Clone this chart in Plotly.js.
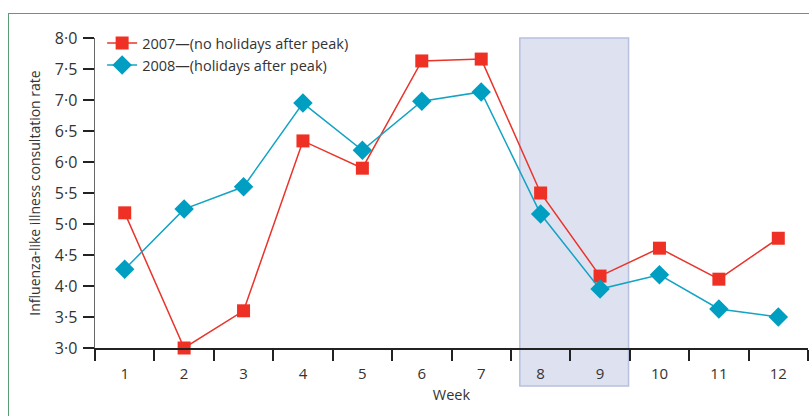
<!DOCTYPE html>
<html>
<head>
<meta charset="utf-8">
<script src="https://cdn.plot.ly/plotly-3.0.1.min.js"></script>
<style>
  html, body { margin: 0; padding: 0; background: #fff; }
  #wrap { position: relative; width: 809px; height: 416px; }
  #chart { width: 809px; height: 416px; }
  #frame { position: absolute; left: 8px; top: 13px; right: -5px; bottom: -5px;
           border-top: 1.5px solid #5a9e78; border-left: 1.5px solid #5a9e78; pointer-events: none; }
</style>
</head>
<body>
<div id="wrap">
  <div id="chart"></div>
  <div id="frame"></div>
</div>
<script>
const weeks = ['1','2','3','4','5','6','7','8','9','10','11','12'];
const rate2007 = [5.18, 3.00, 3.60, 6.34, 5.90, 7.63, 7.66, 5.50, 4.16, 4.61, 4.11, 4.77];
const rate2008 = [4.27, 5.24, 5.60, 6.95, 6.19, 6.98, 7.13, 5.16, 3.95, 4.18, 3.63, 3.50];
const yTickVals = [3.0, 3.5, 4.0, 4.5, 5.0, 5.5, 6.0, 6.5, 7.0, 7.5, 8.0];
const yTickText = ['3·0','3·5','4·0','4·5','5·0','5·5','6·0','6·5','7·0','7·5','8·0'];
const name2007 = '2007—(no holidays after peak)';
const name2008 = '2008—(holidays after peak)';
const holidayStart = 6.65, holidayEnd = 8.48; // category index coordinates

const font = '"Open Sans", sans-serif';

const traces = [
  { x: weeks, y: rate2007, name: name2007, type: 'scatter', mode: 'lines+markers',
    line: { color: '#e8342b', width: 1.5 },
    marker: { symbol: 'square', size: 13, color: '#ee3124' }, cliponaxis: false },
  { x: weeks, y: rate2008, name: name2008, type: 'scatter', mode: 'lines+markers',
    line: { color: '#13a3c4', width: 1.5 },
    marker: { symbol: 'diamond', size: 15, color: '#009fc2' }, cliponaxis: false }
];

const layout = {
  width: 809, height: 416,
  margin: { l: 95, r: 1, t: 38, b: 68 },
  paper_bgcolor: '#fff', plot_bgcolor: 'rgba(0,0,0,0)',
  font: { family: font, color: '#333', size: 14 },
  showlegend: true,
  legend: { x: 0.01, y: 1.035, xanchor: 'left', yanchor: 'top', bgcolor: 'rgba(0,0,0,0)',
            font: { size: 14.5, color: '#333', family: font }, tracegroupgap: 0, itemwidth: 30 },
  xaxis: {
    type: 'category', range: [-0.5, 11.5], tickson: 'boundaries',
    showline: true, linecolor: '#222', linewidth: 1.5,
    ticks: 'outside', ticklen: 11, tickwidth: 2, tickcolor: '#222',
    showgrid: false, zeroline: false, ticklabelstandoff: 11,
    tickfont: { size: 15, color: '#333' },
    title: { text: 'Week', font: { size: 14.5, color: '#333' }, standoff: 8 }
  },
  yaxis: {
    range: [3.0, 8.0], tickvals: yTickVals, ticktext: yTickText,
    showline: true, linecolor: '#666', linewidth: 1.5,
    ticks: 'outside', ticklen: 11, tickwidth: 2, tickcolor: '#222',
    showgrid: false, zeroline: false, ticklabelstandoff: 2,
    tickfont: { size: 16, color: '#333' },
    title: { text: 'Influenza-like illness consultation rate', font: { size: 14, color: '#333' }, standoff: 11 }
  },
  shapes: [
    { type: 'rect', layer: 'below', xref: 'x', yref: 'paper',
      x0: holidayStart, x1: holidayEnd, y0: -0.1226, y1: 1.0,
      fillcolor: '#dee1f0', line: { color: '#b9c0de', width: 1.5 } }
  ]
};

Plotly.newPlot('chart', traces, layout, { displayModeBar: false, staticPlot: true });
</script>
</body>
</html>
